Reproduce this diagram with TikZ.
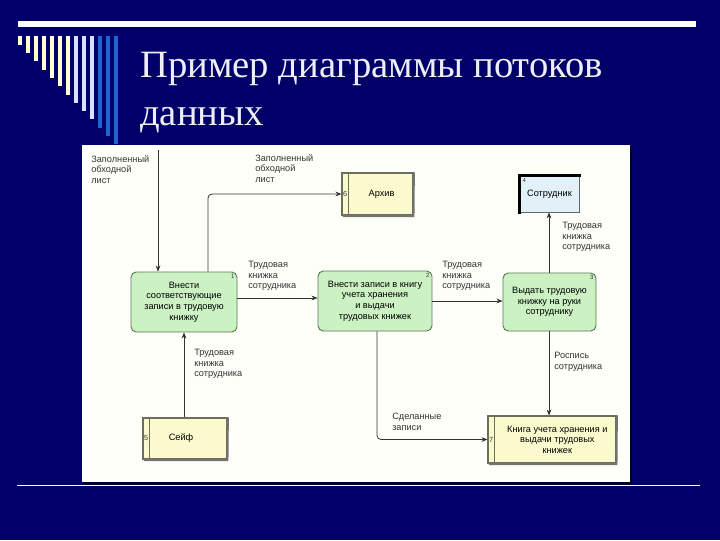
\documentclass[tikz,border=0pt]{standalone}
\usepackage{fontspec}
\setmainfont{Liberation Serif}
\newfontfamily\dfont{Liberation Sans}
\usetikzlibrary{arrows.meta}
\definecolor{navy}{RGB}{0,0,104}
\definecolor{cream}{RGB}{255,255,208}
\definecolor{paleblue}{RGB}{214,226,255}
\definecolor{midblue}{RGB}{34,100,206}
\definecolor{titlecol}{RGB}{238,238,248}
\definecolor{procfill}{RGB}{204,242,196}
\definecolor{procdraw}{RGB}{90,120,90}
\definecolor{storefill}{RGB}{250,250,204}
\definecolor{storedraw}{RGB}{110,110,95}
\definecolor{entfill}{RGB}{226,240,248}
\begin{document}
\begin{tikzpicture}[x=0.75pt,y=-0.75pt,
  dtext/.style={font=\dfont\fontsize{6.9}{7.9}\selectfont},
  proc/.style={dtext, draw=procdraw, line width=0.7pt, fill=procfill, rounded corners=4pt, align=center, inner sep=1pt},
  store/.style={dtext, draw=storedraw, line width=0.8pt, fill=storefill, align=center, inner sep=1pt},
  ent/.style={dtext, draw=black!60, line width=0.5pt, fill=entfill, align=center, inner sep=1pt},
  lbl/.style={dtext, anchor=north west, align=left, inner sep=0pt, text=black!80},
  num/.style={font=\dfont\fontsize{4.5}{5}\selectfont, inner sep=0pt, text=black!80},
  flow/.style={draw=black!80, line width=0.6pt, -{Stealth[length=4.5pt,width=3.6pt]}}
]
\useasboundingbox (0,0) rectangle (720,540);
\fill[navy] (0,0) rectangle (720,540);
% decoration
\fill[white] (18,21) rectangle (696,27);
\foreach \i/\len/\col in {0/45/cream,1/53/cream,2/61/cream,3/70/cream,4/78/cream,5/86/cream,6/95/cream,7/103/paleblue,8/111/paleblue,9/119/paleblue,10/128/midblue,11/136/midblue,12/144/midblue}
  \fill[\col] ({18+8*\i},36) rectangle ({22+8*\i},\len);
% title
\node[anchor=base west, inner sep=0pt, text=titlecol, font=\fontsize{29}{34}\selectfont] (t1) at (140,77) {Пример диаграммы потоков};
\node[anchor=base west, inner sep=0pt, text=titlecol, font=\fontsize{29}{34}\selectfont] (t2) at (140,125) {данных};
% panel
\fill[black!70!navy] (84,147) rectangle (632,485);
\fill[white!98!yellow] (82,145) rectangle (630,482);
\draw[white, line width=1.3pt] (17,485.5) -- (700,485.5);
% processes
\node[proc, minimum width=79.5pt, minimum height=45pt] (p1) at (184,302) {Внести\\соответствующие\\записи в трудовую\\книжку};
\node[proc, minimum width=85.5pt, minimum height=45pt] (p2) at (375,301) {Внести записи в книгу\\учета хранения\\и выдачи\\трудовых книжек};
\node[proc, minimum width=69.75pt, minimum height=43.5pt] (p3) at (549.5,302) {Выдать трудовую\\книжку на руки\\сотруднику};
\node[num, anchor=north east] (n1) at ([xshift=-2pt,yshift=-2pt]p1.north east) {1};
\node[num, anchor=north east] (n2) at ([xshift=-2pt,yshift=-2pt]p2.north east) {2};
\node[num, anchor=north east] (n3) at ([xshift=-2pt,yshift=-2pt]p3.north east) {3};
% stores
\node[store, minimum width=53.25pt, minimum height=31.5pt] (arch) at (377.5,194) {\hspace*{6pt}Архив};
\node[store, minimum width=63pt, minimum height=30.75pt] (safe) at (185,438.5) {Сейф\hspace*{6pt}};
\node[store, minimum width=96pt, minimum height=35.25pt] (book) at (552,439.5) {\hspace*{8pt}Книга учета хранения и\\\hspace*{8pt}выдачи трудовых\\\hspace*{8pt}книжек};
\foreach \s in {arch,safe,book}{
  \draw[storedraw, line width=0.6pt] ([xshift=5.5pt]\s.north west) -- ([xshift=5.5pt]\s.south west);
  \draw[black!55, line width=1.4pt] ([xshift=1pt,yshift=-0.4pt]\s.south west) -- ([yshift=-0.4pt]\s.south east) -- ([xshift=0.3pt]\s.north east);
}
\node[num, font=\dfont\fontsize{5.5}{6}\selectfont] (n6) at ([xshift=2.8pt]arch.west) {6};
\node[num, font=\dfont\fontsize{5.5}{6}\selectfont] (n5) at ([xshift=2.8pt]safe.west) {5};
\node[num, font=\dfont\fontsize{5.5}{6}\selectfont] (n7) at ([xshift=2.8pt]book.west) {7};
% external entity
\node[ent, minimum width=44.25pt, minimum height=27pt] (emp) at (549.5,194) {Сотрудник};
\draw[black, line width=1.8pt, line cap=rect] (emp.south west) -- (emp.north west) -- (emp.north east);
\node[num, anchor=north west] (n4) at ([xshift=2pt,yshift=-2pt]emp.north west) {4};
% helper coordinates
\coordinate (top1) at (158,150);
\coordinate (x208) at (208,0);
\coordinate (y298) at (0,298);
\coordinate (x377) at (377,0);
\coordinate (x549) at (549,0);
\coordinate (x184) at (184,0);
% flows
\draw[flow] (top1) -- (p1.north -| top1);
\draw[flow, rounded corners=3pt] (p1.north -| x208) |- (arch.west);
\draw[flow] (p1.east |- y298) -- (p2.west |- y298);
\draw[flow] (p2.east) -- (p3.west |- p2.east);
\draw[flow] (p3.north -| x549) -- (emp.south -| x549);
\draw[flow] (p3.south -| x549) -- (book.north -| x549);
\draw[flow, rounded corners=3pt] (p2.south -| x377) |- (book.west);
\draw[flow] (safe.north -| x184) -- (p1.south -| x184);
% labels
\node[lbl] (l1) at (91,155) {Заполненный\\обходной\\лист};
\node[lbl] (l2) at (255,154) {Заполненный\\обходной\\лист};
\node[lbl] (l3) at (248,261) {Трудовая\\книжка\\сотрудника};
\node[lbl] (l4) at (442,261) {Трудовая\\книжка\\сотрудника};
\node[lbl] (l5) at (562,222) {Трудовая\\книжка\\сотрудника};
\node[lbl] (l6) at (554,352) {Роспись\\сотрудника};
\node[lbl] (l7) at (392,413) {Сделанные\\записи};
\node[lbl] (l8) at (194,349) {Трудовая\\книжка\\сотрудника};
\end{tikzpicture}
\end{document}
